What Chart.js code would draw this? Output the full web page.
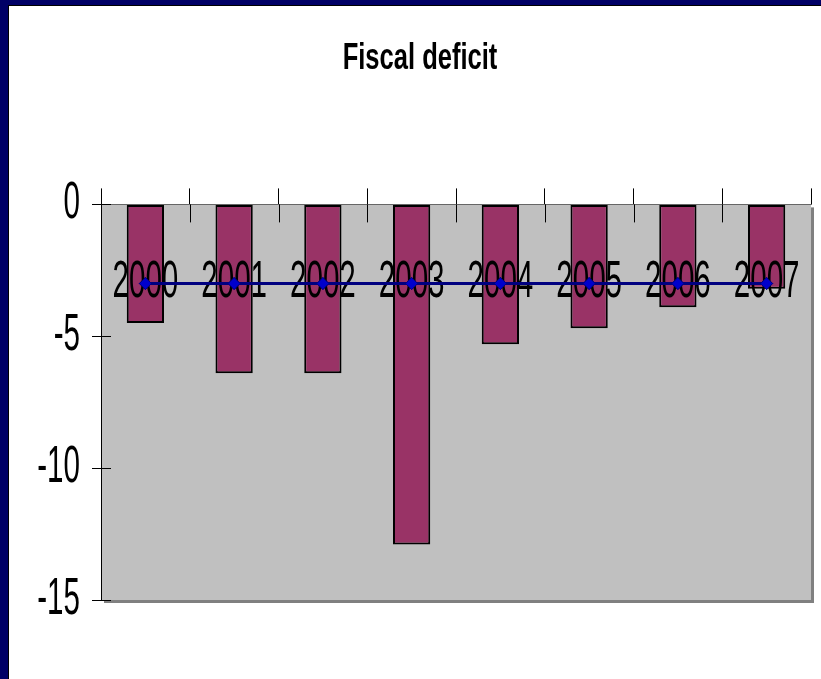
<!DOCTYPE html>
<html>
<head>
<meta charset="utf-8">
<script src="https://cdn.jsdelivr.net/npm/chart.js@4/dist/chart.umd.min.js"></script>
<style>
  html, body { margin: 0; padding: 0; background: #000066; width: 821px; height: 679px; overflow: hidden; }
  #frame { position: absolute; left: 8px; top: 5px; width: 813px; height: 674px; background: #ffffff; border-left: 1px solid #000; border-top: 1px solid #000; box-sizing: border-box; }
  canvas { position: absolute; left: 0; top: 0; }
</style>
</head>
<body>
<div id="frame"><canvas id="chart" width="812" height="673"></canvas></div>
<script>
// values
var years = ['2000', '2001', '2002', '2003', '2004', '2005', '2006', '2007'];
var deficit = [-4.5, -6.4, -6.4, -12.9, -5.3, -4.7, -3.9, -3.2];
var target = [-3, -3, -3, -3, -3, -3, -3, -3];
var yMin = -15, yMax = 0, yStep = 5;

var fontFamily = "'Liberation Sans', Arial, sans-serif";

//the original text is squeezed sideways (narrow font), so squeeze every fillText
var narrowText = {
    id: 'narrowText',
    beforeInit: function (chart) {
        var ctx = chart.ctx;
        var fill = ctx.fillText;
        ctx.fillText = function (text, x, y, maxWidth) {
            var k = /bold/.test(ctx.font) ? 0.69 : 0.58;
            ctx.save();
            ctx.translate(x, y);
            ctx.scale(k, 1);
            fill.call(ctx, text, 0, 0);
            ctx.restore();
        };
    }
};

//gray plot area with a darker shadow on the right and bottom
var plotBackground = {
    id: 'plotBackground',
    beforeDraw: function (chart) {
        var a = chart.chartArea, ctx = chart.ctx;
        ctx.save();
        ctx.fillStyle = '#808080';
        ctx.fillRect(a.left + 3, a.top + 3, a.right - a.left, a.bottom - a.top);
        ctx.fillStyle = '#C0C0C0';
        ctx.fillRect(a.left, a.top, a.right - a.left, a.bottom - a.top);
        ctx.restore();
    }
};

//tick marks also cross into the plot area
var innerTicks = {
    id: 'innerTicks',
    beforeDatasetsDraw: function (chart) {
        var a = chart.chartArea, ctx = chart.ctx;
        var x = chart.scales.x, y = chart.scales.y;
        var half = (x.getPixelForValue(1) - x.getPixelForValue(0)) / 2;
        ctx.save();
        ctx.strokeStyle = '#000';
        ctx.lineWidth = 1;
        ctx.beginPath();
        for (var i = 0; i < years.length - 1; i++) {
            var bx = Math.round(x.getPixelForValue(i) + half) + 0.5;
            ctx.moveTo(bx, a.top);
            ctx.lineTo(bx, a.top + 18);
        }
        for (var v = yMin; v <= yMax; v += yStep) {
            var py = Math.round(y.getPixelForValue(v)) + 0.5;
            ctx.moveTo(a.left, py);
            ctx.lineTo(a.left + 10, py);
        }
        ctx.stroke();
        ctx.restore();
    }
};

//year labels sit over the bars but under the target line
var lineOnTop = {
    id: 'lineOnTop',
    afterDraw: function (chart) {
        chart.getDatasetMeta(0).controller.draw();
    }
};

new Chart(document.getElementById('chart'), {
    data: {
        labels: years,
        datasets: [
            {
                type: 'line',
                label: 'Target',
                data: target,
                order: 0,
                borderColor: '#000080',
                borderWidth: 3,
                pointStyle: 'rectRot',
                pointRadius: 6,
                pointBackgroundColor: '#0000CC',
                pointBorderColor: '#000080',
                pointBorderWidth: 1
            },
            {
                type: 'bar',
                label: 'Fiscal deficit',
                data: deficit,
                order: 1,
                backgroundColor: '#993366',
                borderColor: '#000000',
                borderWidth: 2,
                borderSkipped: false,
                barPercentage: 0.42,
                categoryPercentage: 1
            }
        ]
    },
    options: {
        responsive: false,
        animation: false,
        layout: { padding: { left: 20, right: 10, top: 0, bottom: 79 } },
        plugins: {
            legend: { display: false },
            tooltip: { enabled: false },
            title: {
                display: true,
                text: 'Fiscal deficit',
                color: '#000',
                font: { family: fontFamily, size: 37, weight: 'bold' },
                padding: { top: 31, bottom: 107 }
            }
        },
        scales: {
            x: {
                position: 'top',
                offset: true,
                grid: { display: true, offset: true, drawOnChartArea: false, tickLength: 16, color: '#000', tickColor: '#000' },
                border: { display: true, color: '#666666', width: 1 },
                ticks: {
                    z: 1,
                    color: '#000',
                    font: { family: fontFamily, size: 51 },
                    mirror: true,
                    padding: 48,
                    maxRotation: 0,
                    autoSkip: false
                },
                afterFit: function (scale) {
                    scale.height = 16;
                    scale.paddingLeft = 0;
                    scale.paddingRight = 0;
                }
            },
            y: {
                min: yMin,
                max: yMax,
                grid: { display: true, drawOnChartArea: false, tickLength: 9, color: '#000', tickColor: '#000' },
                border: { display: true, color: '#000', width: 1 },
                ticks: {
                    stepSize: yStep,
                    color: '#000',
                    font: { family: fontFamily, size: 51 },
                    padding: 12
                },
                afterFit: function (scale) { scale.width = 72; }
            }
        }
    },
    plugins: [narrowText, plotBackground, innerTicks, lineOnTop]
});
</script>
</body>
</html>
